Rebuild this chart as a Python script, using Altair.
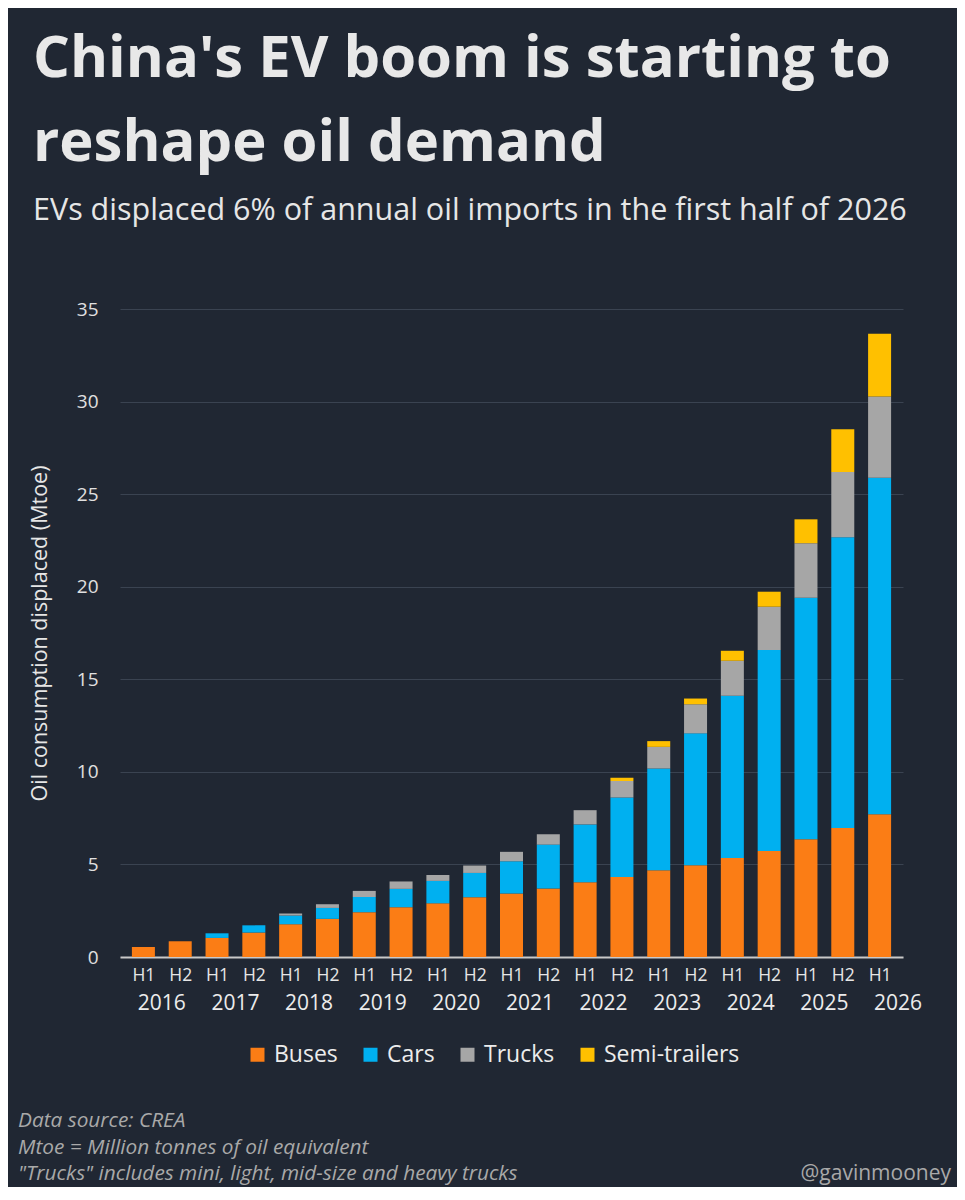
import altair as alt
import pandas as pd

# ---- data ----
halves = ["H1", "H2"] * 10 + ["H1"]
years = [str(y) for y in range(2016, 2027)]
categories = ["Buses", "Cars", "Trucks", "Semi-trailers"]
colors = ["#fb7d15", "#00b0f0", "#a6a6a6", "#ffc000"]

buses = [0.54, 0.85, 1.03, 1.32, 1.77, 2.06, 2.42, 2.69, 2.90, 3.23, 3.43,
         3.70, 4.04, 4.32, 4.69, 4.96, 5.35, 5.73, 6.36, 6.97, 7.71]
cars = [0.00, 0.00, 0.25, 0.39, 0.47, 0.59, 0.82, 0.99, 1.21, 1.31, 1.74,
        2.37, 3.12, 4.30, 5.49, 7.12, 8.76, 10.85, 13.04, 15.70, 18.18]
trucks = [0.00, 0.00, 0.00, 0.00, 0.11, 0.20, 0.33, 0.40, 0.32, 0.40, 0.51,
          0.56, 0.77, 0.88, 1.17, 1.57, 1.89, 2.34, 2.95, 3.53, 4.38]
semis = [0.00, 0.00, 0.00, 0.00, 0.00, 0.00, 0.00, 0.00, 0.00, 0.00, 0.00,
         0.00, 0.00, 0.18, 0.31, 0.31, 0.54, 0.81, 1.29, 2.30, 3.39]

title_lines = ["China's EV boom is starting to", "reshape oil demand"]
subtitle = "EVs displaced 6% of annual oil imports in the first half of 2026"
y_title = "Oil consumption displaced (Mtoe)"
footer_lines = [
    "Data source: CREA",
    "Mtoe = Million tonnes of oil equivalent",
    "\"Trucks\" includes mini, light, mid-size and heavy trucks",
]
credit = "@gavinmooney"

# ---- tables built from the arrays ----
rows = []
for i in range(len(halves)):
    for k, (cat, series) in enumerate(zip(categories, [buses, cars, trucks, semis])):
        rows.append({"idx": i, "half": halves[i], "category": cat,
                     "value": series[i], "ord": k})
df = pd.DataFrame(rows)
df_years = pd.DataFrame({"pos": [2 * k + 0.5 for k in range(len(years))],
                         "year": years})

W, H = 783, 648
BG = "#202733"
FONT = "Open Sans"

x_scale = alt.Scale(domain=[-0.5, 20.5], nice=False, zero=False)
x_axis = alt.Axis(values=list(range(21)), title=None,
                  labelExpr="datum.value % 2 == 0 ? 'H1' : 'H2'",
                  labelFlush=False, labelOverlap=False, labelBound=False,
                  labelFontSize=17.5, labelColor="#e6e6e6", labelFont=FONT,
                  labelPadding=9, ticks=False, grid=False,
                  domain=True, domainColor="#c9c9c9", domainWidth=2)

bars = alt.Chart(df).mark_bar(size=23).encode(
    x=alt.X("idx:Q", scale=x_scale, axis=x_axis),
    y=alt.Y("value:Q", stack="zero",
            scale=alt.Scale(domain=[0, 35], nice=False),
            axis=alt.Axis(values=[0, 5, 10, 15, 20, 25, 30, 35], title=y_title,
                          titleFontSize=21.5, titleFont=FONT, titleFontWeight="normal",
                          titleColor="#e6e6e6", titlePadding=25,
                          labelFontSize=19, labelColor="#e0e0e0", labelFont=FONT,
                          labelPadding=22, ticks=False, domain=False,
                          grid=True, gridColor="#3a4351", gridWidth=1)),
    color=alt.Color("category:N",
                    scale=alt.Scale(domain=categories, range=colors),
                    sort=categories,
                    legend=alt.Legend(title=None, orient="none", direction="horizontal",
                                      legendX=126, legendY=734,
                                      symbolType="square", symbolSize=196,
                                      symbolStrokeWidth=0, labelFontSize=23,
                                      labelFont=FONT, labelColor="#ececec",
                                      labelOffset=5, columnPadding=21)),
    order=alt.Order("ord:Q", sort="ascending"),
)

year_text = alt.Chart(df_years).mark_text(
    fontSize=21, font=FONT, color="#ececec", align="center", baseline="alphabetic"
).encode(
    x=alt.X("pos:Q", scale=x_scale, axis=x_axis),
    y=alt.value(H + 53),
    text="year:N",
)

footer = alt.Chart(pd.DataFrame({"t": [0]})).mark_text(
    text=footer_lines, fontSize=20.8, font=FONT, fontStyle="italic",
    color="#a9a9a9", align="left", baseline="alphabetic", lineHeight=26.5
).encode(x=alt.value(-102), y=alt.value(818))

credit_text = alt.Chart(pd.DataFrame({"t": [0]})).mark_text(
    text=credit, fontSize=21, font=FONT, color="#a9a9a9",
    align="right", baseline="alphabetic"
).encode(x=alt.value(831), y=alt.value(871))

chart = alt.layer(bars, year_text, footer, credit_text).properties(
    width=W, height=H,
    autosize=alt.AutoSizeParams(type="none"),
    padding={"left": 112, "top": 301, "right": 54, "bottom": 230},
    background=BG,
    title=alt.TitleParams(
        text=title_lines, subtitle=subtitle,
        anchor="start", frame="group", dx=-87, offset=74,
        font=FONT, fontSize=58, fontWeight="bold", color="#e8e8e8", lineHeight=84,
        subtitleFont=FONT, subtitleFontSize=30.5, subtitleColor="#e6e6e6",
        subtitlePadding=23,
    ),
).configure_view(stroke=None).configure_axisX(labelOverlap=False)

chart.save("out.html", embed_options={"renderer": "svg", "actions": False})
